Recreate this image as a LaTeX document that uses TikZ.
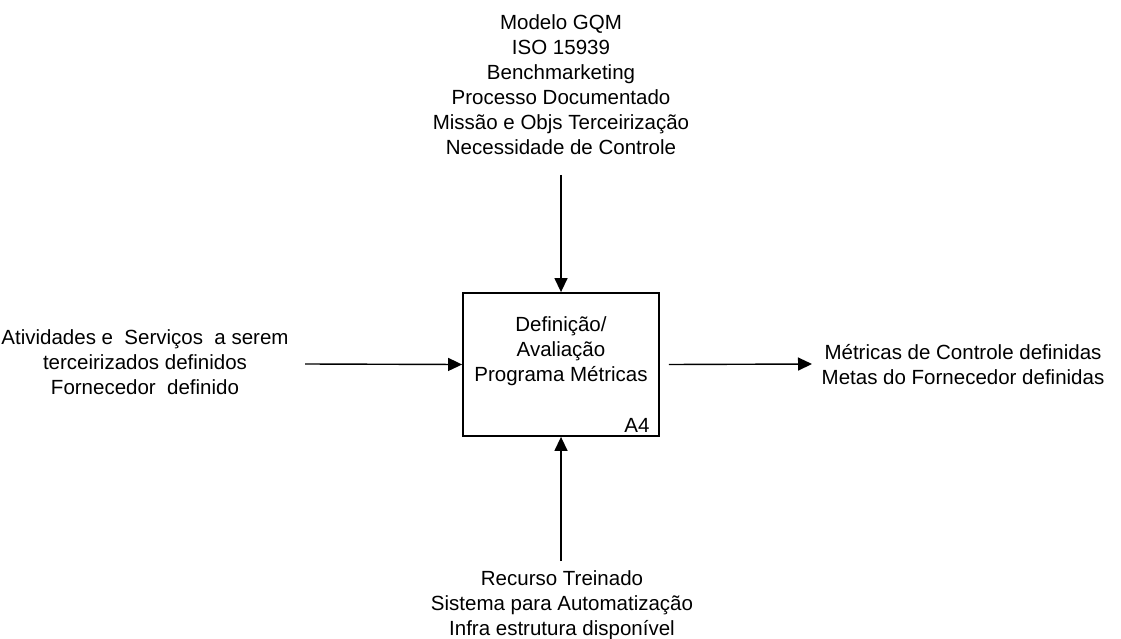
\documentclass[tikz,border=0pt]{standalone}
\usepackage{fontspec}
\setmainfont{Liberation Sans}
\usetikzlibrary{arrows.meta}
\begin{document}
\begin{tikzpicture}[x=1pt,y=-1pt,
  every node/.style={font=\fontsize{20.5}{25}\selectfont, inner sep=0pt},
  label text/.style={align=center},
  activity/.style={draw, line width=1.8pt, minimum width=196pt, minimum height=143pt},
  flow/.style={line width=1.4pt, -{Triangle[length=14pt,width=13pt]}}]
  \useasboundingbox (0,0) rectangle (1121,639);

  % activity box
  \node[activity] (act) at (561,364.5) {};
  \node[label text] (acttext) at (561,351) {Definição/\\Avaliação\\Programa Métricas};
  \node (actid) at (637,425) {A4};

  % controls (top)
  \node[label text] (ctrl) at (561,85) {Modelo GQM\\ISO 15939\\Benchmarketing\\Processo Documentado\\Missão e Objs Terceirização\\Necessidade de Controle};
  \coordinate (ctrlend) at (561,175);

  % inputs (left)
  \node[label text] (inp) at (145,362) {Atividades e\ \ Serviços\ \ a serem\\terceirizados definidos\\Fornecedor\ \ definido};
  \coordinate (inpend) at (305,364);

  % outputs (right)
  \node[label text] (outp) at (963,365) {Métricas de Controle definidas\\Metas do Fornecedor definidas};
  \coordinate (outend) at (812,364);

  % mechanisms (bottom)
  \node[label text] (mech) at (562,605) {Recurso Treinado\\Sistema para Automatização\\Infra estrutura disponível};
  \coordinate (mechend) at (561,561);

  % arrows
  \draw[flow] (ctrlend) -- (act.north);
  \draw[flow] (inpend) -- (act.west);
  \draw[flow] (act.east) ++(9,0) coordinate (outstart) -- (outend);
  \draw[flow] (mechend) -- (act.south);
\end{tikzpicture}
\end{document}
